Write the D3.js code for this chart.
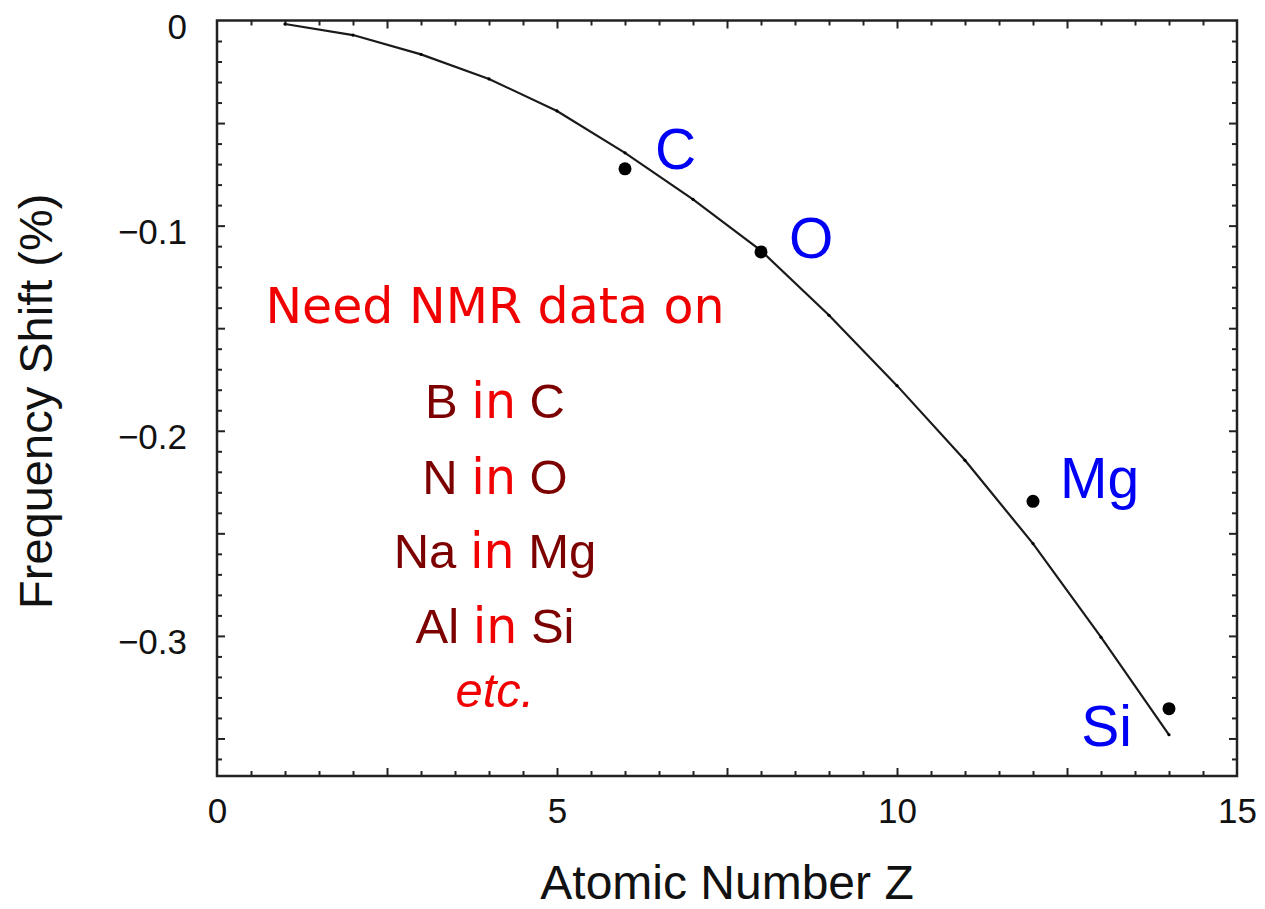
<!DOCTYPE html>
<html>
<head>
<meta charset="utf-8">
<script src="https://cdn.jsdelivr.net/npm/d3@7"></script>
<style>
  html, body { margin: 0; padding: 0; background: #fff; }
  svg { display: block; }
</style>
</head>
<body>
<svg id="chart" width="1265" height="909"></svg>
<script>
// Model curve: frequency shift vs atomic number
const zCurve = [1, 2, 3, 4, 5, 6, 7, 8, 9, 10, 11, 12, 13, 14];
const shiftCurve = [-0.0017, -0.0071, -0.0165, -0.0285, -0.0441, -0.0645, -0.0872,
                    -0.1122, -0.1437, -0.1780, -0.2144, -0.2550, -0.3006, -0.3482];

// Measured points
const elements = ["C", "O", "Mg", "Si"];
const zMeasured = [6, 8, 12, 14];
const shiftMeasured = [-0.0723, -0.1128, -0.2344, -0.3355];

// Axis ticks
const xTickValues = [0, 5, 10, 15];
const xTickLabels = ["0", "5", "10", "15"];
const yTickValues = [0, -0.1, -0.2, -0.3];
const yTickLabels = ["0", "\u22120.1", "\u22120.2", "\u22120.3"];

// Annotation text
const noteHeading = "Need NMR data on";
const dopants = ["B", "N", "Na", "Al"];
const hosts = ["C", "O", "Mg", "Si"];
const noteTail = "etc.";

(function draw() {
const svg = d3.select("#chart");
const pLeft = 217, pRight = 1237, pTop = 20.5, pBottom = 776;

const x = d3.scaleLinear().domain([0, 15]).range([pLeft, pRight]);
const y = d3.scaleLinear().domain([0, -0.3683]).range([pTop, pBottom]);

const sans = "'Liberation Sans', Arial, Helvetica, sans-serif";
const hand = "'Comic Sans MS', 'DejaVu Sans', sans-serif";

// minor / major tick sets
const xMinor = d3.range(1, 30).map(i => i / 2);
const yMinor = d3.range(1, 37).map(i => -i / 100);

function tickGroup(axisGen, tx, ty) {
  const g = svg.append("g").attr("transform", `translate(${tx},${ty})`).call(axisGen);
  g.select(".domain").remove();
  g.selectAll(".tick line").attr("stroke", "#222").attr("stroke-width", 2);
  return g;
}
const isMajorX = v => Math.abs(v / 2.5 - Math.round(v / 2.5)) < 1e-6;
const isMajorY = v => Math.abs(v / 0.05 - Math.round(v / 0.05)) < 1e-6;

// x ticks, inward on bottom and top
[["bottom", pBottom], ["top", pTop]].forEach(([side, py]) => {
  [[xMinor.filter(v => !isMajorX(v)), 5], [xMinor.filter(isMajorX), 8]].forEach(([vals, len]) => {
    const gen = (side === "bottom" ? d3.axisBottom(x) : d3.axisTop(x))
      .tickValues(vals).tickSize(-len).tickFormat("");
    tickGroup(gen, 0, py);
  });
});
// y ticks, inward on left and right
[["left", pLeft], ["right", pRight]].forEach(([side, px]) => {
  [[yMinor.filter(v => !isMajorY(v)), 5], [yMinor.filter(isMajorY), 8]].forEach(([vals, len]) => {
    const gen = (side === "left" ? d3.axisLeft(y) : d3.axisRight(y))
      .tickValues(vals).tickSize(-len).tickFormat("");
    tickGroup(gen, px, 0);
  });
});

// frame
svg.append("rect")
  .attr("x", pLeft).attr("y", pTop)
  .attr("width", pRight - pLeft).attr("height", pBottom - pTop)
  .attr("fill", "none").attr("stroke", "#222").attr("stroke-width", 2.5);

// tick labels
const xLab = d3.axisBottom(x).tickValues(xTickValues).tickSize(0)
  .tickFormat((d, i) => xTickLabels[i]).tickPadding(0);
const gx = svg.append("g").attr("transform", `translate(0,${pBottom})`).call(xLab);
gx.select(".domain").remove();
gx.selectAll("text").attr("font-family", sans).attr("font-size", 35)
  .attr("fill", "#111").attr("dy", null).attr("y", 47);

const yLab = d3.axisLeft(y).tickValues(yTickValues).tickSize(0)
  .tickFormat((d, i) => yTickLabels[i]).tickPadding(0);
const gy = svg.append("g").attr("transform", `translate(${pLeft - 30},0)`).call(yLab);
gy.select(".domain").remove();
gy.selectAll("text").attr("font-family", sans).attr("font-size", 35)
  .attr("fill", "#111").attr("dy", null).attr("x", 0).attr("y", 18);

// axis titles
svg.append("text")
  .attr("x", (pLeft + pRight) / 2).attr("y", 899)
  .attr("text-anchor", "middle")
  .attr("font-family", sans).attr("font-size", 48).attr("fill", "#111")
  .text("Atomic Number Z");
svg.append("text")
  .attr("transform", `translate(52,${(pTop + pBottom) / 2 + 3}) rotate(-90)`)
  .attr("text-anchor", "middle")
  .attr("font-family", sans).attr("font-size", 47).attr("fill", "#111")
  .text("Frequency Shift (%)");

// model curve
const curveData = zCurve.map((z, i) => [z, shiftCurve[i]]);
svg.append("path")
  .datum(curveData)
  .attr("fill", "none").attr("stroke", "#1a1a1a").attr("stroke-width", 2.2)
  .attr("d", d3.line().x(d => x(d[0])).y(d => y(d[1])));
svg.append("g").selectAll("circle").data(curveData).join("circle")
  .attr("cx", d => x(d[0])).attr("cy", d => y(d[1])).attr("r", 1.6).attr("fill", "#000");

// measured points
const points = elements.map((el, i) => ({ el, z: zMeasured[i], v: shiftMeasured[i] }));
svg.append("g").selectAll("circle").data(points).join("circle")
  .attr("cx", d => x(d.z)).attr("cy", d => y(d.v)).attr("r", 6.5).attr("fill", "#000");

// element labels beside points
const labelOffset = { C: [30, 0, "start"], O: [28, 6, "start"], Mg: [27, -3, "start"], Si: [-37, 37, "end"] };
svg.append("g").selectAll("text").data(points).join("text")
  .attr("x", d => x(d.z) + labelOffset[d.el][0])
  .attr("y", d => y(d.v) + labelOffset[d.el][1])
  .attr("text-anchor", d => labelOffset[d.el][2])
  .attr("font-family", sans).attr("font-size", 57).attr("fill", "#0000f5")
  .text(d => d.el);

// annotation
const cx = 495;
svg.append("text")
  .attr("x", cx).attr("y", 323).attr("text-anchor", "middle")
  .attr("font-family", hand).attr("font-size", 49).attr("fill", "#f00000")
  .text(noteHeading);

const lineY = [418, 494, 568, 643];
dopants.forEach((d, i) => {
  const t = svg.append("text")
    .attr("x", cx).attr("y", lineY[i]).attr("text-anchor", "middle")
    .attr("font-size", 49);
  t.append("tspan").attr("font-family", sans).attr("fill", "#7d0000").text(d + " ");
  t.append("tspan").attr("font-family", hand).attr("fill", "#f00000").text("in");
  t.append("tspan").attr("font-family", sans).attr("fill", "#7d0000").text(" " + hosts[i]);
});
svg.append("text")
  .attr("x", cx).attr("y", 707).attr("text-anchor", "middle")
  .attr("font-family", sans).attr("font-style", "italic")
  .attr("font-size", 49).attr("fill", "#f00000")
  .text(noteTail);
})();
</script>
</body>
</html>
